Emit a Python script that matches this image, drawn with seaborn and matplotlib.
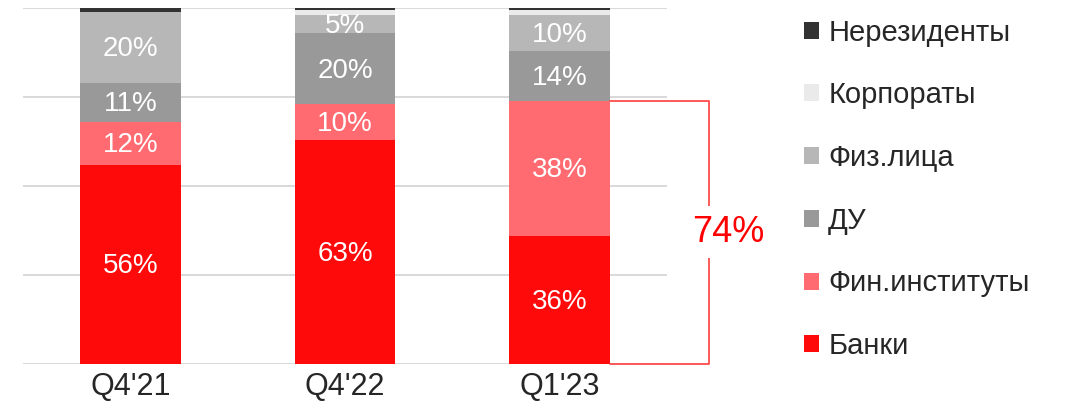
import pandas as pd
import seaborn as sns
import matplotlib.pyplot as plt
from matplotlib.patches import Patch

# data (shares, %)
quarters = ["Q4'21", "Q4'22", "Q1'23"]
segments = ['Банки', 'Фин.институты', 'ДУ', 'Физ.лица', 'Корпораты', 'Нерезиденты']
banki = [56, 63, 36]
fin_inst = [12, 10, 38]
du = [11, 20, 14]
fiz = [20, 5, 10]
corp = [0, 1.5, 1.5]
nonres = [1.3, 0.5, 0.5]
labelled = ['Банки', 'Фин.институты', 'ДУ', 'Физ.лица']
colors = ['#FF0A0A', '#FF6B70', '#999999', '#B7B7B7', '#EAEAEA', '#333333']
bracket_text = '74%'

sns.set_style('white')
sans = ['Liberation Sans', 'DejaVu Sans']

# long table with cumulative tops for the stacking
rows = []
values = [banki, fin_inst, du, fiz, corp, nonres]
for j, q in enumerate(quarters):
    bottom = 0
    for seg, vals in zip(segments, values):
        rows.append({'quarter': q, 'segment': seg, 'value': vals[j], 'bottom': bottom, 'top': bottom + vals[j]})
        bottom += vals[j]
df = pd.DataFrame(rows)

fig = plt.figure(figsize=(10.73, 4.12), dpi=100)
ax = fig.add_axes([0.0214, 0.1165, 0.6002, 0.8641])

for y in [0, 25, 50, 75, 100]:
    ax.axhline(y, color='#D9D9D9', lw=1.4, zorder=1)

width = 0.47
# stacked bars: draw cumulative tops from the highest segment down
for seg, col in reversed(list(zip(segments, colors))):
    sub = df[df['segment'] == seg]
    sns.barplot(data=sub, x='quarter', y='top', order=quarters, color=col,
                width=width, linewidth=0, saturation=1, ax=ax, zorder=3)

for i, q in enumerate(quarters):
    for seg in labelled:
        r = df[(df['quarter'] == q) & (df['segment'] == seg)].iloc[0]
        ax.text(i, r['bottom'] + r['value'] / 2 - 0.6, f"{r['value']:.0f}%", color='white',
                ha='center', va='center', fontsize=20, family=sans, zorder=5)

# bracket around Банки + Фин.институты in last quarter
top = banki[2] + fin_inst[2]
x0 = 2 + width / 2
x1 = 2.696
ax.plot([x0, x1, x1, x0], [top, top, 0, 0], color='#FF4B4B', lw=1.3, clip_on=False, zorder=4)
ax.text(2.784, top / 2, bracket_text, color='#FF0000', fontsize=26, family=sans,
        ha='center', va='center', zorder=6,
        bbox=dict(facecolor='white', edgecolor='none', pad=6))

ax.set_xlim(-0.5, 2.5)
ax.set_ylim(0, 100)
ax.set_xlabel('')
ax.set_ylabel('')
ax.set_yticks([])
ax.tick_params(axis='x', length=0, pad=6)
for lab in ax.get_xticklabels():
    lab.set_fontsize(22)
    lab.set_family(sans)
for s in ax.spines.values():
    s.set_visible(False)

handles = [Patch(facecolor=c, edgecolor='none', label=s) for s, c in zip(segments, colors)][::-1]
fig.legend(handles=handles, loc='upper left', bbox_to_anchor=(0.7495, 0.955), frameon=False,
           prop={'family': sans, 'size': 21}, handlelength=0.52, handleheight=0.52,
           handletextpad=0.3, labelspacing=1.19, borderpad=0, borderaxespad=0)

plt.savefig('out.png', dpi=100)
